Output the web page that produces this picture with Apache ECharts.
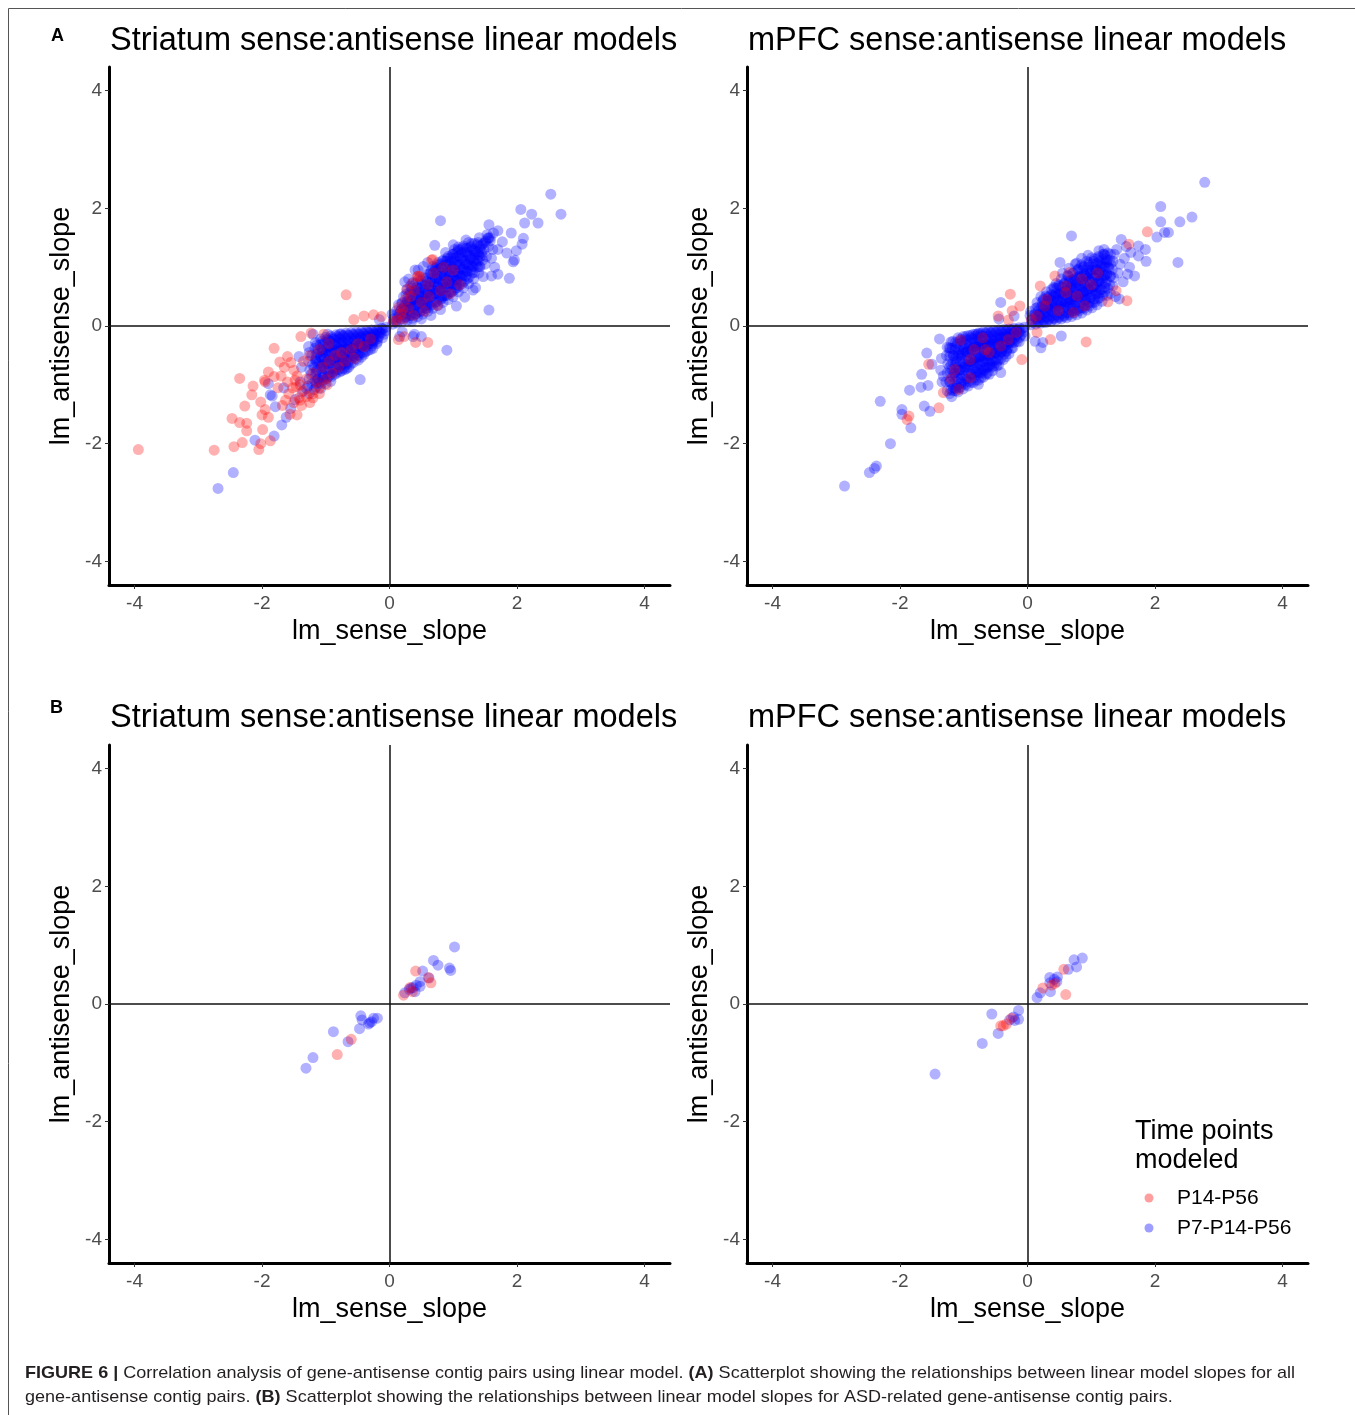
<!DOCTYPE html>
<html>
<head>
<meta charset="utf-8">
<script src="https://cdn.jsdelivr.net/npm/echarts@6/dist/echarts.min.js"></script>
<style>
html,body{margin:0;padding:0;background:#fff;}
#chart{width:1355px;height:1415px;}
</style>
</head>
<body>
<div id="chart"></div>
<script>
// ---------- data ----------
const xTicks = [-4, -2, 0, 2, 4];
const yTicks = [-4, -2, 0, 2, 4];
const seriesNames = ['P14-P56', 'P7-P14-P56'];
const panelTitles = ['Striatum sense:antisense linear models', 'mPFC sense:antisense linear models',
                     'Striatum sense:antisense linear models', 'mPFC sense:antisense linear models'];
const xName = 'lm_sense_slope';
const yName = 'lm_antisense_slope';
const legendTitle = 'Time points\nmodeled';
const captionLine1 = [['b', 'FIGURE 6 |'], ['n', ' Correlation analysis of gene-antisense contig pairs using linear model. '], ['b', '(A)'], ['n', ' Scatterplot showing the relationships between linear model slopes for all']];
const captionLine2 = [['n', 'gene-antisense contig pairs. '], ['b', '(B)'], ['n', ' Scatterplot showing the relationships between linear model slopes for ASD-related gene-antisense contig pairs.']];

// Panel A, Striatum (all pairs)
const striatumAllBlue = [
[-2.69,-2.76],[-2.45,-2.49],[2.53,2.24],[2.69,1.90],[2.06,1.98],[2.23,1.90],[2.12,1.75],[2.33,1.75],[0.80,1.79],[1.56,1.72],
[1.70,1.62],[1.91,1.58],[2.10,1.49],[2.08,1.39],[1.99,1.28],[1.96,1.12],[1.88,0.81],[1.56,0.27],[1.70,0.88],[0.90,-0.41],
[0.71,1.37],[1.08,1.34],[1.55,1.49],[1.77,1.43],[1.84,1.24],[1.94,1.09],[1.42,1.01],[1.47,0.84],[1.31,0.61],[1.18,0.49],
[1.05,0.34],[0.40,0.95],[0.24,0.75],[0.53,1.01],[0.16,-0.18],[0.37,-0.18],[0.50,-0.18],[0.20,-0.10],[0.39,-0.14],
[-0.16,0.11],[-1.20,-0.14],[-0.97,-0.14],[-0.78,-0.14],[-1.27,-0.35],[-1.42,-0.52],[-1.90,-0.98],[-1.84,-1.19],[-1.79,-1.37],
[-1.69,-1.68],[-1.81,-1.87],[-2.11,-1.94],[-0.46,-0.91],[-1.30,-1.06],[-1.48,-1.25],[-1.66,-1.05],[-1.55,-1.40],[-1.62,-1.55],[-1.87,-1.17],
[0.05,0.03],[0.06,0.12],[0.04,0.2],
[0.12,0.05],[0.13,0.15],[0.11,0.26],[0.14,0.36],
[0.2,0.08],[0.21,0.19],[0.19,0.29],[0.2,0.4],[0.22,0.5],
[0.28,0.1],[0.27,0.21],[0.29,0.31],[0.28,0.42],[0.3,0.52],[0.27,0.62],
[0.36,0.13],[0.37,0.23],[0.35,0.33],[0.36,0.43],[0.38,0.54],[0.35,0.64],[0.37,0.74],
[0.44,0.16],[0.45,0.26],[0.43,0.36],[0.44,0.46],[0.46,0.56],[0.43,0.66],[0.45,0.78],
[0.52,0.2],[0.53,0.31],[0.51,0.41],[0.52,0.51],[0.54,0.61],[0.51,0.71],[0.53,0.83],
[0.6,0.25],[0.61,0.36],[0.59,0.46],[0.6,0.56],[0.62,0.66],[0.59,0.76],[0.61,0.88],
[0.68,0.3],[0.69,0.41],[0.67,0.51],[0.68,0.61],[0.7,0.71],[0.67,0.81],[0.69,0.92],[0.68,1.01],
[0.76,0.35],[0.77,0.46],[0.75,0.56],[0.76,0.66],[0.78,0.76],[0.75,0.86],[0.77,0.96],[0.76,1.08],
[0.84,0.4],[0.85,0.51],[0.83,0.61],[0.84,0.71],[0.86,0.81],[0.83,0.91],[0.85,1.01],[0.84,1.12],
[0.92,0.45],[0.93,0.56],[0.91,0.66],[0.92,0.76],[0.94,0.86],[0.91,0.96],[0.93,1.06],[0.92,1.18],
[1.0,0.5],[1.01,0.61],[0.99,0.71],[1.0,0.81],[1.02,0.91],[0.99,1.01],[1.01,1.11],[1.0,1.22],[1.02,1.3],
[1.08,0.58],[1.09,0.69],[1.07,0.79],[1.08,0.89],[1.1,0.99],[1.07,1.09],[1.09,1.19],[1.08,1.3],
[1.16,0.65],[1.17,0.76],[1.15,0.86],[1.16,0.96],[1.18,1.06],[1.15,1.16],[1.17,1.26],[1.16,1.36],
[1.24,0.72],[1.25,0.83],[1.23,0.93],[1.24,1.03],[1.26,1.13],[1.23,1.23],[1.25,1.33],[1.24,1.42],
[1.32,0.8],[1.33,0.91],[1.31,1.01],[1.32,1.11],[1.34,1.21],[1.31,1.31],[1.33,1.4],
[1.4,0.9],[1.41,1.01],[1.39,1.11],[1.4,1.21],[1.42,1.31],[1.39,1.42],[1.41,1.5],
[1.5,1.05],[1.52,1.18],[1.48,1.3],[1.51,1.45],[1.53,1.55],
[1.6,1.15],[1.62,1.3],[1.58,1.45],[1.63,1.58],
[0.24,0.15],[0.24,0.35],[0.32,0.18],[0.32,0.38],[0.32,0.58],[0.4,0.2],[0.4,0.4],[0.4,0.6],[0.48,0.24],[0.48,0.44],
[0.48,0.64],[0.56,0.3],[0.56,0.5],[0.56,0.7],[0.64,0.34],[0.64,0.54],[0.64,0.74],[0.64,0.9],[0.72,0.4],[0.72,0.6],
[0.72,0.8],[0.72,0.98],[0.8,0.45],[0.8,0.65],[0.8,0.85],[0.8,1.05],[0.88,0.52],[0.88,0.72],[0.88,0.92],[0.88,1.1],
[0.96,0.58],[0.96,0.78],[0.96,0.98],[0.96,1.16],[1.04,0.65],[1.04,0.85],[1.04,1.05],[1.04,1.24],[1.12,0.75],[1.12,0.95],
[1.12,1.15],[1.12,1.3],[1.2,0.85],[1.2,1.05],[1.2,1.25],[1.28,0.95],[1.28,1.15],[1.28,1.35],[1.36,1.05],[1.36,1.25],
[1.45,1.2],[1.45,1.38],[1.55,1.35],[1.55,1.5],
[-0.05,-0.02],[-0.06,-0.08],
[-0.12,-0.04],[-0.13,-0.12],[-0.11,-0.2],
[-0.2,-0.06],[-0.21,-0.14],[-0.19,-0.22],[-0.2,-0.3],
[-0.28,-0.07],[-0.29,-0.16],[-0.27,-0.25],[-0.28,-0.34],[-0.3,-0.4],
[-0.36,-0.08],[-0.37,-0.17],[-0.35,-0.26],[-0.36,-0.35],[-0.38,-0.44],
[-0.44,-0.09],[-0.45,-0.18],[-0.43,-0.27],[-0.44,-0.36],[-0.46,-0.45],[-0.44,-0.53],
[-0.52,-0.1],[-0.53,-0.19],[-0.51,-0.28],[-0.52,-0.37],[-0.54,-0.46],[-0.52,-0.56],
[-0.6,-0.11],[-0.61,-0.2],[-0.59,-0.29],[-0.6,-0.38],[-0.62,-0.47],[-0.6,-0.56],[-0.61,-0.65],
[-0.68,-0.12],[-0.69,-0.21],[-0.67,-0.3],[-0.68,-0.39],[-0.7,-0.48],[-0.68,-0.57],[-0.69,-0.66],[-0.7,-0.74],
[-0.76,-0.13],[-0.77,-0.22],[-0.75,-0.31],[-0.76,-0.4],[-0.78,-0.49],[-0.76,-0.58],[-0.77,-0.67],[-0.78,-0.78],
[-0.84,-0.15],[-0.85,-0.24],[-0.83,-0.33],[-0.84,-0.42],[-0.86,-0.51],[-0.84,-0.6],[-0.85,-0.7],[-0.86,-0.82],
[-0.92,-0.17],[-0.93,-0.26],[-0.91,-0.35],[-0.92,-0.44],[-0.94,-0.53],[-0.92,-0.62],[-0.93,-0.72],[-0.94,-0.84],[-0.92,-0.94],
[-1.0,-0.19],[-1.01,-0.28],[-0.99,-0.37],[-1.0,-0.46],[-1.02,-0.55],[-1.0,-0.64],[-1.01,-0.74],[-1.02,-0.86],[-1.0,-0.98],
[-1.08,-0.22],[-1.09,-0.32],[-1.07,-0.42],[-1.08,-0.52],[-1.1,-0.62],[-1.08,-0.72],[-1.09,-0.84],[-1.1,-0.96],[-1.08,-1.06],
[-1.16,-0.28],[-1.17,-0.38],[-1.15,-0.48],[-1.16,-0.58],[-1.18,-0.7],[-1.16,-0.82],[-1.17,-0.94],[-1.18,-1.08],
[-1.26,-0.45],[-1.27,-0.6],[-1.25,-0.75],[-1.26,-0.9],[-1.28,-1.02],[-1.26,-1.15],
[-1.38,-0.7],[-1.4,-0.95],[-1.37,-1.12],
[-0.16,-0.1],[-0.24,-0.12],[-0.24,-0.26],[-0.32,-0.12],[-0.32,-0.3],[-0.4,-0.13],[-0.4,-0.31],[-0.4,-0.48],[-0.48,-0.14],[-0.48,-0.32],
[-0.48,-0.5],[-0.56,-0.15],[-0.56,-0.33],[-0.56,-0.52],[-0.64,-0.16],[-0.64,-0.34],[-0.64,-0.53],[-0.64,-0.7],[-0.72,-0.17],[-0.72,-0.35],
[-0.72,-0.54],[-0.72,-0.72],[-0.8,-0.2],[-0.8,-0.38],[-0.8,-0.56],[-0.8,-0.74],[-0.88,-0.22],[-0.88,-0.4],[-0.88,-0.58],[-0.88,-0.78],
[-0.96,-0.24],[-0.96,-0.44],[-0.96,-0.64],[-0.96,-0.86],[-1.04,-0.3],[-1.04,-0.5],[-1.04,-0.7],[-1.04,-0.92],[-1.12,-0.4],[-1.12,-0.65],[-1.12,-0.9]
];
const striatumAllBlueCore = [
[0.1,0.08],[0.11,0.2],
[0.18,0.12],[0.17,0.25],[0.19,0.38],
[0.26,0.15],[0.25,0.28],[0.27,0.41],[0.26,0.54],
[0.34,0.18],[0.33,0.31],[0.35,0.44],[0.34,0.57],[0.33,0.68],
[0.42,0.21],[0.41,0.34],[0.43,0.47],[0.42,0.6],[0.41,0.72],
[0.5,0.26],[0.49,0.39],[0.51,0.52],[0.5,0.65],[0.49,0.78],
[0.58,0.3],[0.57,0.43],[0.59,0.56],[0.58,0.69],[0.57,0.82],
[0.66,0.36],[0.65,0.49],[0.67,0.62],[0.66,0.75],[0.65,0.88],
[0.74,0.42],[0.73,0.55],[0.75,0.68],[0.74,0.81],[0.73,0.94],[0.75,1.04],
[0.82,0.47],[0.81,0.6],[0.83,0.73],[0.82,0.86],[0.81,0.99],[0.83,1.1],
[0.9,0.52],[0.89,0.65],[0.91,0.78],[0.9,0.91],[0.89,1.04],[0.91,1.15],
[0.98,0.58],[0.97,0.71],[0.99,0.84],[0.98,0.97],[0.97,1.1],[0.99,1.22],
[1.06,0.65],[1.05,0.78],[1.07,0.91],[1.06,1.04],[1.05,1.17],[1.07,1.27],
[1.14,0.72],[1.13,0.85],[1.15,0.98],[1.14,1.11],[1.13,1.24],[1.15,1.33],
[1.22,0.8],[1.21,0.93],[1.23,1.06],[1.22,1.19],[1.21,1.32],
[1.3,0.9],[1.29,1.03],[1.31,1.16],[1.3,1.29],[1.29,1.4],
[1.38,1.0],[1.37,1.13],[1.39,1.26],[1.38,1.38],
[1.46,1.12],[1.45,1.25],[1.47,1.4],
[0.15,0.2],[0.22,0.3],[0.3,0.25],[0.3,0.4],[0.38,0.3],[0.38,0.48],[0.46,0.38],[0.46,0.55],[0.54,0.45],[0.54,0.62],
[0.62,0.5],[0.62,0.68],[0.7,0.55],[0.7,0.75],[0.78,0.6],[0.78,0.8],[0.86,0.66],[0.86,0.86],[0.94,0.72],[0.94,0.92],
[1.02,0.78],[1.02,0.98],[1.1,0.85],[1.1,1.05],[1.18,0.92],[1.18,1.12],[1.26,1.0],[1.26,1.2],[1.34,1.08],[1.34,1.28],
[1.42,1.18],[1.42,1.36],[0.66,0.95],[0.74,1.0],[0.9,1.1],[1.0,1.15],[0.58,0.35],[0.82,0.5],[1.06,0.7],[1.5,1.42],[1.58,1.5],
[0.5,0.12],[0.65,0.18],[0.8,0.28],[0.35,0.08],[0.3,0.8],[0.45,0.95],[0.6,1.08],[0.88,1.25],[1.0,1.38],[1.2,1.46],
[1.65,1.0],[1.6,0.85],[1.7,1.3],[1.35,0.65],
[-0.1,-0.05],[-0.09,-0.14],
[-0.18,-0.08],[-0.17,-0.18],[-0.19,-0.27],
[-0.26,-0.1],[-0.25,-0.2],[-0.27,-0.3],[-0.26,-0.38],
[-0.34,-0.1],[-0.33,-0.21],[-0.35,-0.32],[-0.34,-0.42],
[-0.42,-0.12],[-0.41,-0.23],[-0.43,-0.34],[-0.42,-0.45],
[-0.5,-0.13],[-0.49,-0.25],[-0.51,-0.37],[-0.5,-0.49],[-0.49,-0.58],
[-0.58,-0.14],[-0.57,-0.26],[-0.59,-0.38],[-0.58,-0.5],[-0.57,-0.62],
[-0.66,-0.15],[-0.65,-0.27],[-0.67,-0.39],[-0.66,-0.51],[-0.65,-0.63],[-0.67,-0.72],
[-0.74,-0.16],[-0.73,-0.28],[-0.75,-0.4],[-0.74,-0.52],[-0.73,-0.64],[-0.75,-0.76],
[-0.82,-0.18],[-0.81,-0.3],[-0.83,-0.42],[-0.82,-0.54],[-0.81,-0.66],[-0.83,-0.8],
[-0.9,-0.2],[-0.89,-0.32],[-0.91,-0.45],[-0.9,-0.58],[-0.89,-0.71],[-0.91,-0.86],
[-0.98,-0.22],[-0.97,-0.35],[-0.99,-0.48],[-0.98,-0.61],[-0.97,-0.75],[-0.99,-0.9],
[-1.06,-0.26],[-1.05,-0.4],[-1.07,-0.54],[-1.06,-0.68],[-1.05,-0.82],[-1.07,-0.98],
[-1.14,-0.32],[-1.13,-0.46],[-1.15,-0.6],[-1.14,-0.75],[-1.13,-0.9],[-1.15,-1.04],
[-1.22,-0.5],[-1.21,-0.66],[-1.23,-0.82],[-1.22,-0.98],
[-0.15,-0.12],[-0.25,-0.15],[-0.25,-0.25],[-0.35,-0.18],[-0.35,-0.3],[-0.45,-0.2],[-0.45,-0.35],[-0.55,-0.22],[-0.55,-0.4],[-0.65,-0.25],
[-0.65,-0.45],[-0.65,-0.6],[-0.75,-0.28],[-0.75,-0.5],[-0.75,-0.66],[-0.85,-0.3],[-0.85,-0.55],[-0.85,-0.75],[-0.95,-0.35],[-0.95,-0.6],
[-0.95,-0.8],[-1.05,-0.45],[-1.05,-0.65],[-1.05,-0.88],[-1.15,-0.55],[-1.15,-0.78],[-1.15,-0.98]
];
const striatumAllRed = [
[0.06,0.08],[0.12,0.1],[0.18,0.2],[0.22,0.12],[0.15,0.32],[0.25,0.45],[0.3,0.3],[0.28,0.62],[0.35,0.72],[0.38,0.18],
[0.4,0.6],[0.45,0.85],[0.48,0.84],[0.5,0.4],[0.55,0.25],[0.6,0.7],[0.62,0.5],[0.66,1.12],[0.68,1.13],[0.7,0.9],
[0.75,0.35],[0.8,0.6],[0.85,1.0],[0.9,0.75],[0.95,0.55],[1.0,0.95],[1.1,0.7],[0.44,0.84],[0.33,0.5],[0.2,0.28],
[-0.68,0.53],[-0.56,0.11],[-0.40,0.17],[-0.25,0.19],[-0.13,0.16],[0.14,-0.23],[0.41,-0.28],[0.60,-0.28],[0.23,-0.18],
[-3.94,-2.10],[-1.39,-0.18],[-1.81,-0.38],[-2.35,-0.89],[-2.14,-1.02],[-2.27,-1.36],[-2.47,-1.57],[-2.35,-1.64],[-2.24,-1.78],[-2.75,-2.11],
[-2.44,-2.05],[-2.31,-1.98],[-2.05,-2.10],[-2.02,-2.0],[-1.87,-1.95],[-1.99,-1.76],[-1.90,-1.55],[-1.95,-1.42],[-2.02,-1.29],[-1.72,-0.61],
[-1.60,-0.52],[-1.96,-0.92],[-1.81,-0.86],[-1.90,-0.78],[-1.48,-0.92],[-1.63,-1.26],[-1.56,-1.50],[-1.45,-1.51],[-1.23,-0.12],[-1.03,-0.14],
[-2.16,-1.17],[-2.0,-1.51],[-2.24,-1.65],[-1.95,-0.95],[-1.46,-1.03],[-1.40,-1.26],
[-1.7,-0.85],[-1.65,-0.7],[-1.55,-0.62],[-1.5,-0.75],[-1.45,-0.85],[-1.4,-1.0],[-1.35,-1.1],[-1.3,-1.2],[-1.25,-1.3],[-1.2,-1.15],
[-1.52,-1.05],[-1.58,-1.15],[-1.42,-1.22],[-1.38,-1.35],[-1.5,-1.3],[-1.3,-0.9],[-1.2,-0.8],[-1.15,-0.95],[-1.1,-1.05],[-1.05,-0.7],
[-1.0,-0.9],[-0.95,-0.6],[-0.9,-0.8],[-0.85,-0.5],[-0.8,-0.7],[-0.75,-0.45],[-0.7,-0.6],[-0.6,-0.4],[-0.55,-0.55],[-0.5,-0.3],
[-0.4,-0.35],[-0.3,-0.22],[-1.35,-0.6],[-1.25,-0.5],[-1.1,-0.4],[-0.95,-0.3],[-1.6,-0.95],[-1.75,-1.05],[-1.68,-1.35],[-1.2,-1.22],
[-1.1,-1.15],[-0.98,-1.0]
];

// Panel A, mPFC (all pairs)
const mpfcAllBlue = [
[2.78,2.44],[2.09,2.03],[2.09,1.77],[2.39,1.77],[2.58,1.85],[2.21,1.59],[2.15,1.59],[2.03,1.51],[2.36,1.08],[0.69,1.53],
[1.85,1.30],[1.86,1.10],[1.74,1.19],[1.68,0.85],[1.57,0.88],[1.44,0.46],[1.47,1.47],[1.74,1.36],[0.51,1.08],[0.77,1.07],
[-0.42,0.40],[-0.45,0.12],[-0.21,0.17],[0.53,-0.17],[0.12,-0.26],[0.24,-0.28],[0.21,-0.37],
[-2.87,-2.72],[-2.48,-2.49],[-2.37,-2.38],[-2.40,-2.42],[-2.15,-2.0],[-1.83,-1.73],[-1.97,-1.42],[-2.31,-1.28],[-1.85,-1.09],
[-1.62,-1.36],[-1.53,-1.45],[-1.66,-0.82],[-1.58,-0.46],[-1.56,-1.01],[-1.38,-0.22],[-1.20,-0.27],[-0.78,-0.14],[-0.42,-0.79],
[-0.60,-0.82],[-0.77,-0.99],[-1.97,-1.50],[-1.67,-1.04],[-1.23,-0.37],[-1.50,-0.65],[-1.32,-0.85],
[0.05,0.02],[0.06,0.1],[0.04,0.18],[0.05,0.25],
[0.13,0.03],[0.14,0.12],[0.12,0.21],[0.13,0.3],[0.15,0.4],
[0.21,0.05],[0.22,0.14],[0.2,0.23],[0.21,0.32],[0.23,0.41],[0.21,0.5],
[0.29,0.06],[0.3,0.15],[0.28,0.24],[0.29,0.33],[0.31,0.42],[0.29,0.51],[0.3,0.58],
[0.37,0.08],[0.38,0.17],[0.36,0.26],[0.37,0.35],[0.39,0.44],[0.37,0.53],[0.38,0.62],
[0.45,0.1],[0.46,0.19],[0.44,0.28],[0.45,0.37],[0.47,0.46],[0.45,0.55],[0.46,0.64],[0.45,0.72],
[0.53,0.12],[0.54,0.21],[0.52,0.3],[0.53,0.39],[0.55,0.48],[0.53,0.57],[0.54,0.66],[0.53,0.8],
[0.61,0.14],[0.62,0.23],[0.6,0.32],[0.61,0.41],[0.63,0.5],[0.61,0.59],[0.62,0.68],[0.61,0.77],[0.63,0.86],
[0.69,0.16],[0.7,0.25],[0.68,0.34],[0.69,0.43],[0.71,0.52],[0.69,0.61],[0.7,0.7],[0.69,0.79],[0.71,0.9],
[0.77,0.19],[0.78,0.28],[0.76,0.37],[0.77,0.46],[0.79,0.55],[0.77,0.64],[0.78,0.73],[0.77,0.82],[0.79,0.96],
[0.85,0.22],[0.86,0.31],[0.84,0.4],[0.85,0.49],[0.87,0.58],[0.85,0.67],[0.86,0.76],[0.85,0.85],[0.87,0.95],[0.85,1.04],
[0.93,0.27],[0.94,0.36],[0.92,0.45],[0.93,0.54],[0.95,0.63],[0.93,0.72],[0.94,0.81],[0.93,0.9],[0.95,1.0],[0.93,1.1],
[1.01,0.31],[1.02,0.4],[1.0,0.49],[1.01,0.58],[1.03,0.67],[1.01,0.76],[1.02,0.85],[1.01,0.95],[1.03,1.05],[1.01,1.16],
[1.09,0.36],[1.1,0.46],[1.08,0.56],[1.09,0.66],[1.11,0.76],[1.09,0.86],[1.1,0.96],[1.09,1.06],[1.11,1.18],
[1.17,0.42],[1.18,0.52],[1.16,0.62],[1.17,0.72],[1.19,0.82],[1.17,0.92],[1.18,1.02],[1.17,1.12],[1.19,1.22],
[1.25,0.52],[1.26,0.64],[1.24,0.76],[1.25,0.88],[1.27,1.0],[1.25,1.12],[1.26,1.24],
[1.34,0.68],[1.35,0.82],[1.33,0.96],[1.34,1.1],[1.36,1.22],
[1.42,0.9],[1.45,1.05],[1.5,0.75],[1.52,1.15],[1.6,1.0],[1.62,1.25],[1.4,1.3],[1.55,1.35],[1.3,0.55],[1.38,0.5],
[0.95,1.2],[0.85,1.15],[0.75,1.05],[0.65,0.98],[0.55,0.9],[1.12,1.28],[1.2,1.3],
[0.17,0.1],[0.17,0.26],[0.25,0.1],[0.25,0.28],[0.25,0.44],[0.33,0.12],[0.33,0.3],[0.33,0.48],[0.41,0.14],[0.41,0.32],
[0.41,0.5],[0.41,0.66],[0.49,0.16],[0.49,0.34],[0.49,0.52],[0.49,0.7],[0.57,0.18],[0.57,0.36],[0.57,0.54],[0.57,0.72],
[0.65,0.22],[0.65,0.4],[0.65,0.58],[0.65,0.76],[0.73,0.26],[0.73,0.44],[0.73,0.62],[0.73,0.8],[0.81,0.3],[0.81,0.48],
[0.81,0.66],[0.81,0.84],[0.81,0.98],[0.89,0.34],[0.89,0.52],[0.89,0.7],[0.89,0.88],[0.89,1.02],[0.97,0.4],[0.97,0.58],
[0.97,0.76],[0.97,0.94],[0.97,1.08],[1.05,0.46],[1.05,0.64],[1.05,0.82],[1.05,1.0],[1.05,1.14],[1.13,0.56],[1.13,0.74],
[1.13,0.92],[1.13,1.1],[1.21,0.66],[1.21,0.86],[1.21,1.06],[1.21,1.2],[1.3,0.85],[1.3,1.05],
[-0.05,-0.02],[-0.06,-0.1],[-0.04,-0.17],
[-0.13,-0.03],[-0.14,-0.11],[-0.12,-0.19],[-0.13,-0.27],
[-0.21,-0.04],[-0.22,-0.12],[-0.2,-0.2],[-0.21,-0.28],[-0.23,-0.37],
[-0.29,-0.05],[-0.3,-0.13],[-0.28,-0.21],[-0.29,-0.29],[-0.31,-0.38],[-0.29,-0.47],
[-0.37,-0.06],[-0.38,-0.14],[-0.36,-0.22],[-0.37,-0.3],[-0.39,-0.39],[-0.37,-0.48],[-0.38,-0.57],
[-0.45,-0.07],[-0.46,-0.15],[-0.44,-0.23],[-0.45,-0.31],[-0.47,-0.4],[-0.45,-0.49],[-0.46,-0.58],[-0.45,-0.66],
[-0.53,-0.08],[-0.54,-0.16],[-0.52,-0.24],[-0.53,-0.32],[-0.55,-0.41],[-0.53,-0.5],[-0.54,-0.59],[-0.53,-0.68],[-0.55,-0.76],
[-0.61,-0.09],[-0.62,-0.17],[-0.6,-0.25],[-0.61,-0.33],[-0.63,-0.42],[-0.61,-0.51],[-0.62,-0.6],[-0.61,-0.69],[-0.63,-0.8],
[-0.69,-0.1],[-0.7,-0.18],[-0.68,-0.26],[-0.69,-0.34],[-0.71,-0.43],[-0.69,-0.52],[-0.7,-0.61],[-0.69,-0.7],[-0.71,-0.8],[-0.69,-0.87],
[-0.77,-0.12],[-0.78,-0.2],[-0.76,-0.28],[-0.77,-0.36],[-0.79,-0.45],[-0.77,-0.54],[-0.78,-0.63],[-0.77,-0.72],[-0.79,-0.82],[-0.77,-0.92],
[-0.85,-0.14],[-0.86,-0.22],[-0.84,-0.3],[-0.85,-0.38],[-0.87,-0.47],[-0.85,-0.56],[-0.86,-0.65],[-0.85,-0.74],[-0.87,-0.84],[-0.85,-0.96],
[-0.93,-0.16],[-0.94,-0.24],[-0.92,-0.33],[-0.93,-0.42],[-0.95,-0.51],[-0.93,-0.6],[-0.94,-0.7],[-0.93,-0.8],[-0.95,-0.9],[-0.93,-1.02],
[-1.01,-0.18],[-1.02,-0.27],[-1.0,-0.36],[-1.01,-0.45],[-1.03,-0.54],[-1.01,-0.64],[-1.02,-0.74],[-1.01,-0.84],[-1.03,-0.95],[-1.01,-1.07],
[-1.09,-0.2],[-1.1,-0.3],[-1.08,-0.4],[-1.09,-0.5],[-1.11,-0.6],[-1.09,-0.7],[-1.1,-0.8],[-1.09,-0.9],[-1.11,-1.02],[-1.09,-1.12],
[-1.17,-0.26],[-1.18,-0.38],[-1.16,-0.5],[-1.17,-0.62],[-1.19,-0.74],[-1.17,-0.86],[-1.18,-0.98],[-1.17,-1.1],[-1.19,-1.2],
[-1.26,-0.36],[-1.27,-0.5],[-1.25,-0.64],[-1.26,-0.8],[-1.28,-0.95],[-1.26,-1.1],
[-1.35,-0.55],[-1.36,-0.75],[-1.34,-0.95],
[-0.17,-0.08],[-0.17,-0.22],[-0.25,-0.08],[-0.25,-0.24],[-0.33,-0.09],[-0.33,-0.26],[-0.33,-0.42],[-0.41,-0.1],[-0.41,-0.27],[-0.41,-0.44],
[-0.49,-0.11],[-0.49,-0.28],[-0.49,-0.46],[-0.49,-0.62],[-0.57,-0.12],[-0.57,-0.3],[-0.57,-0.48],[-0.57,-0.66],[-0.65,-0.13],[-0.65,-0.31],
[-0.65,-0.5],[-0.65,-0.7],[-0.73,-0.15],[-0.73,-0.33],[-0.73,-0.52],[-0.73,-0.74],[-0.81,-0.17],[-0.81,-0.35],[-0.81,-0.55],[-0.81,-0.78],
[-0.89,-0.2],[-0.89,-0.4],[-0.89,-0.6],[-0.89,-0.82],[-0.97,-0.22],[-0.97,-0.44],[-0.97,-0.66],[-0.97,-0.9],[-1.05,-0.25],[-1.05,-0.5],
[-1.05,-0.75],[-1.05,-0.98],[-1.13,-0.35],[-1.13,-0.6],[-1.13,-0.85],[-1.13,-1.06],[-1.22,-0.45],[-1.22,-0.7],[-1.22,-0.95],[-1.22,-1.15]
];
const mpfcAllBlueCore = [
[0.09,0.06],[0.1,0.18],
[0.17,0.06],[0.18,0.18],[0.16,0.32],
[0.25,0.07],[0.26,0.2],[0.24,0.34],[0.25,0.46],
[0.33,0.1],[0.34,0.23],[0.32,0.37],[0.33,0.5],
[0.41,0.12],[0.42,0.25],[0.4,0.39],[0.41,0.53],[0.42,0.64],
[0.49,0.14],[0.5,0.27],[0.48,0.41],[0.49,0.55],[0.5,0.68],
[0.57,0.16],[0.58,0.3],[0.56,0.44],[0.57,0.58],[0.58,0.72],
[0.65,0.19],[0.66,0.33],[0.64,0.47],[0.65,0.61],[0.66,0.75],[0.64,0.85],
[0.73,0.22],[0.74,0.36],[0.72,0.5],[0.73,0.64],[0.74,0.78],[0.72,0.9],
[0.81,0.26],[0.82,0.4],[0.8,0.54],[0.81,0.68],[0.82,0.82],[0.8,0.95],
[0.89,0.3],[0.9,0.44],[0.88,0.58],[0.89,0.72],[0.9,0.86],[0.88,1.0],
[0.97,0.34],[0.98,0.48],[0.96,0.62],[0.97,0.76],[0.98,0.9],[0.96,1.04],
[1.05,0.4],[1.06,0.54],[1.04,0.68],[1.05,0.82],[1.06,0.96],[1.04,1.1],
[1.13,0.48],[1.14,0.62],[1.12,0.76],[1.13,0.9],[1.14,1.04],[1.12,1.16],
[1.21,0.58],[1.22,0.72],[1.2,0.86],[1.21,1.0],[1.22,1.14],[1.2,1.22],
[1.29,0.7],[1.3,0.84],[1.28,0.98],[1.29,1.12],[1.3,1.22],
[0.12,0.15],[0.2,0.2],[0.28,0.22],[0.28,0.36],[0.36,0.28],[0.36,0.44],[0.44,0.32],[0.44,0.5],[0.52,0.36],[0.52,0.55],
[0.6,0.4],[0.6,0.6],[0.68,0.45],[0.68,0.66],[0.76,0.5],[0.76,0.72],[0.84,0.55],[0.84,0.78],[0.92,0.6],[0.92,0.84],
[1.0,0.65],[1.0,0.9],[1.08,0.72],[1.08,0.95],[1.16,0.8],[1.16,1.0],[1.24,0.88],[1.24,1.08],[0.7,0.3],[0.9,0.45],[1.1,0.55],
[-0.09,-0.05],[-0.1,-0.15],
[-0.17,-0.06],[-0.18,-0.16],[-0.16,-0.26],
[-0.25,-0.06],[-0.26,-0.17],[-0.24,-0.28],[-0.25,-0.38],
[-0.33,-0.07],[-0.34,-0.19],[-0.32,-0.31],[-0.33,-0.43],[-0.34,-0.52],
[-0.41,-0.08],[-0.42,-0.2],[-0.4,-0.32],[-0.41,-0.44],[-0.42,-0.56],
[-0.49,-0.09],[-0.5,-0.21],[-0.48,-0.33],[-0.49,-0.45],[-0.5,-0.57],[-0.48,-0.68],
[-0.57,-0.1],[-0.58,-0.22],[-0.56,-0.34],[-0.57,-0.46],[-0.58,-0.58],[-0.56,-0.7],
[-0.65,-0.11],[-0.66,-0.23],[-0.64,-0.35],[-0.65,-0.47],[-0.66,-0.59],[-0.64,-0.71],[-0.65,-0.82],
[-0.73,-0.12],[-0.74,-0.25],[-0.72,-0.38],[-0.73,-0.51],[-0.74,-0.64],[-0.72,-0.77],[-0.73,-0.88],
[-0.81,-0.14],[-0.82,-0.27],[-0.8,-0.4],[-0.81,-0.53],[-0.82,-0.66],[-0.8,-0.79],[-0.81,-0.92],
[-0.89,-0.16],[-0.9,-0.29],[-0.88,-0.42],[-0.89,-0.55],[-0.9,-0.68],[-0.88,-0.81],[-0.89,-0.96],
[-0.97,-0.18],[-0.98,-0.31],[-0.96,-0.44],[-0.97,-0.57],[-0.98,-0.7],[-0.96,-0.84],[-0.97,-1.0],
[-1.05,-0.22],[-1.06,-0.35],[-1.04,-0.48],[-1.05,-0.61],[-1.06,-0.74],[-1.04,-0.88],[-1.05,-1.04],
[-1.13,-0.28],[-1.14,-0.41],[-1.12,-0.54],[-1.13,-0.67],[-1.14,-0.8],[-1.12,-0.94],[-1.13,-1.1],
[-1.21,-0.38],[-1.22,-0.52],[-1.2,-0.66],[-1.21,-0.8],[-1.22,-0.94],[-1.2,-1.08],
[-0.12,-0.1],[-0.2,-0.1],[-0.28,-0.15],[-0.28,-0.28],[-0.36,-0.18],[-0.36,-0.35],[-0.44,-0.2],[-0.44,-0.4],[-0.52,-0.25],[-0.52,-0.45],
[-0.6,-0.28],[-0.6,-0.5],[-0.6,-0.66],[-0.68,-0.3],[-0.68,-0.55],[-0.68,-0.75],[-0.76,-0.32],[-0.76,-0.6],[-0.76,-0.8],[-0.84,-0.35],
[-0.84,-0.62],[-0.84,-0.88],[-0.92,-0.38],[-0.92,-0.66],[-0.92,-0.94],[-1.0,-0.4],[-1.0,-0.7],[-1.0,-0.98],[-1.08,-0.45],[-1.08,-0.75],
[-1.08,-1.05],[-1.16,-0.5],[-1.16,-0.8],[-1.16,-1.05]
];
const mpfcAllRed = [
[1.88,1.60],[1.59,1.39],[1.56,0.43],[1.26,0.41],[1.39,0.60],[0.43,0.85],[0.20,0.68],[0.30,0.45],[0.60,0.57],[0.72,0.23],
[0.90,0.34],[0.78,0.51],[0.60,0.68],[0.66,0.91],[0.48,0.26],[0.27,0.34],[0.15,0.17],[0.06,0.11],[1.0,0.7],[1.1,0.9],[0.85,0.8],
[-0.27,0.54],[-0.24,0.26],[-0.12,0.34],[-0.46,0.17],[-0.30,0.10],
[0.92,-0.27],[0.36,-0.23],[0.15,-0.11],
[-1.86,-1.53],[-1.89,-1.59],[-1.39,-1.39],[-1.05,-0.24],[-1.55,-0.65],[-0.09,-0.57],[-0.90,-0.57],[-0.66,-0.40],[-0.42,-0.34],[-0.30,-0.23],
[-0.18,-0.11],[-1.08,-1.08],[-0.90,-0.88],[-1.14,-0.74],[-1.32,-1.13],[-0.60,-0.45],[-0.84,-0.40],[-1.2,-0.9],[-0.7,-0.2]
];

// Panel B, Striatum (ASD-related pairs)
const striatumAsdBlue = [
[1.02,0.97],[0.69,0.74],[0.76,0.66],[0.94,0.61],[0.96,0.57],[0.52,0.56],[0.62,0.44],[0.48,0.38],[0.42,0.32],[0.37,0.28],
[0.31,0.25],[0.24,0.19],[0.40,0.21],[0.48,0.30],[0.34,0.27],
[-0.45,-0.20],[-0.43,-0.27],[-0.19,-0.24],[-0.25,-0.24],[-0.31,-0.32],[-0.33,-0.34],[-0.47,-0.42],[-0.88,-0.47],[-0.65,-0.64],
[-1.20,-0.91],[-1.31,-1.09],[-0.28,-0.30]
];
const striatumAsdRed = [
[0.41,0.56],[0.61,0.45],[0.65,0.36],[0.32,0.28],[0.22,0.15],[0.36,0.21],[-0.60,-0.60],[-0.82,-0.86]
];

// Panel B, mPFC (ASD-related pairs)
const mpfcAsdBlue = [
[0.86,0.78],[0.73,0.75],[0.77,0.63],[0.64,0.59],[0.47,0.46],[0.35,0.45],[0.46,0.38],[0.35,0.36],[0.36,0.21],[0.20,0.19],
[0.15,0.11],[0.42,0.42],
[-0.14,-0.11],[-0.14,-0.26],[-0.56,-0.17],[-0.22,-0.22],[-0.28,-0.27],[-0.46,-0.50],[-0.71,-0.67],[-1.45,-1.19],[-0.20,-0.28]
];
const mpfcAsdRed = [
[0.57,0.59],[0.43,0.35],[0.38,0.32],[0.24,0.27],[0.60,0.16],[-0.25,-0.24],[-0.33,-0.34],[-0.38,-0.37],[-0.42,-0.37]
];

// ---------- layout / style ----------
const FONT = 'Liberation Sans, Arial, Helvetica, sans-serif';
const RED = 'rgba(255,0,0,0.38)';
const BLUE = 'rgba(0,0,255,0.38)';
const grids = [
  {left: 109, top: 67, width: 561, height: 518},
  {left: 747, top: 67, width: 561, height: 518},
  {left: 109, top: 745, width: 561, height: 518},
  {left: 747, top: 745, width: 561, height: 518}
];
const panelData = [
  [striatumAllRed, striatumAllBlue.concat(striatumAllBlueCore)],
  [mpfcAllRed, mpfcAllBlue.concat(mpfcAllBlueCore)],
  [striatumAsdRed, striatumAsdBlue],
  [mpfcAsdRed, mpfcAsdBlue]
];

const chart = echarts.init(document.getElementById('chart'), null, {renderer: 'canvas'});

const xAxes = [], yAxes = [], series = [];
grids.forEach((g, i) => {
  const common = {
    type: 'value', gridIndex: i, min: -4.4, max: 4.4,
    splitLine: {show: false},
    axisLine: {show: true, onZero: false, lineStyle: {color: '#000', width: 3}},
    nameLocation: 'middle',
    nameTextStyle: {fontFamily: FONT, fontSize: 27, color: '#000'}
  };
  xAxes.push(Object.assign({}, common, {
    position: 'bottom', name: xName, nameGap: 33,
    axisTick: {show: true, length: 4, customValues: xTicks, lineStyle: {color: '#333', width: 1}},
    axisLabel: {customValues: xTicks, color: '#4d4d4d', fontSize: 19, fontFamily: FONT, margin: 9}
  }));
  yAxes.push(Object.assign({}, common, {
    position: 'left', name: yName, nameGap: 34,
    axisTick: {show: true, length: 4, customValues: yTicks, lineStyle: {color: '#333', width: 1}},
    axisLabel: {customValues: yTicks, color: '#4d4d4d', fontSize: 19, fontFamily: FONT, margin: 7}
  }));
  const [red, blue] = panelData[i];
  series.push({
    name: seriesNames[1], type: 'scatter', xAxisIndex: i, yAxisIndex: i,
    data: blue, symbolSize: 11, itemStyle: {color: BLUE},
    silent: true,
    markLine: {
      silent: true, symbol: ['none', 'none'], label: {show: false},
      lineStyle: {color: '#111', width: 1.5, type: 'solid'},
      emphasis: {disabled: true},
      data: [{xAxis: 0}, {yAxis: 0}]
    }
  });
  series.push({
    name: seriesNames[0], type: 'scatter', xAxisIndex: i, yAxisIndex: i,
    data: red, symbolSize: 11, itemStyle: {color: RED}, silent: true
  });
});

// caption: Liberation Sans compressed horizontally to the condensed width of the original
const CAP_SIZE = 17;
const measureCtx = document.createElement('canvas').getContext('2d');
function lineWidth(parts) {
  let w = 0;
  parts.forEach(([k, t]) => {
    measureCtx.font = (k === 'b' ? 'bold ' : '') + CAP_SIZE + 'px "Liberation Sans"';
    w += measureCtx.measureText(t).width;
  });
  return w;
}
const capScale = 1270 / lineWidth(captionLine1);
function richText(parts) {
  return parts.map(([k, t]) => k === 'b' ? '{b|' + t + '}' : '{n|' + t + '}').join('');
}
const capRich = {
  n: {fontFamily: 'Liberation Sans', fontSize: CAP_SIZE, fill: '#231f20'},
  b: {fontFamily: 'Liberation Sans', fontSize: CAP_SIZE, fontWeight: 'bold', fill: '#231f20'}
};

const graphics = [
  {type: 'line', shape: {x1: 8.5, y1: 8.5, x2: 1355, y2: 8.5}, style: {stroke: '#555', lineWidth: 1}},
  {type: 'line', shape: {x1: 8.5, y1: 8.5, x2: 8.5, y2: 1415}, style: {stroke: '#555', lineWidth: 1}},
  {type: 'text', x: 51, y: 36, style: {text: 'A', fontFamily: FONT, fontWeight: 'bold', fontSize: 18, fill: '#000', verticalAlign: 'middle'}},
  {type: 'text', x: 50, y: 708, style: {text: 'B', fontFamily: FONT, fontWeight: 'bold', fontSize: 18, fill: '#000', verticalAlign: 'middle'}},
  {type: 'text', x: 1135, y: 1146, style: {text: legendTitle, fontFamily: FONT, fontSize: 27, lineHeight: 29, fill: '#000', verticalAlign: 'middle'}},
  {type: 'circle', shape: {cx: 1149, cy: 1198, r: 4.5}, style: {fill: RED}},
  {type: 'circle', shape: {cx: 1149, cy: 1228, r: 4.5}, style: {fill: BLUE}},
  {type: 'text', x: 1177, y: 1198, style: {text: seriesNames[0], fontFamily: FONT, fontSize: 21, fill: '#000', verticalAlign: 'middle'}},
  {type: 'text', x: 1177, y: 1228, style: {text: seriesNames[1], fontFamily: FONT, fontSize: 21, fill: '#000', verticalAlign: 'middle'}},
  {type: 'text', x: 25, y: 1373, scaleX: capScale, style: {text: richText(captionLine1), rich: capRich, fontFamily: 'Liberation Sans', fontSize: CAP_SIZE, verticalAlign: 'middle'}},
  {type: 'text', x: 25, y: 1397, scaleX: capScale, style: {text: richText(captionLine2), rich: capRich, fontFamily: 'Liberation Sans', fontSize: CAP_SIZE, verticalAlign: 'middle'}}
];
const titlePos = [[110, 41], [748, 41], [110, 718], [748, 718]];
panelTitles.forEach((t, i) => {
  graphics.push({type: 'text', x: titlePos[i][0], y: titlePos[i][1],
    style: {text: t, fontFamily: FONT, fontSize: 32.5, fill: '#000', verticalAlign: 'middle'}});
});

chart.setOption({
  animation: false,
  backgroundColor: '#fff',
  grid: grids,
  xAxis: xAxes,
  yAxis: yAxes,
  series: series,
  graphic: graphics
});
</script>
</body>
</html>
